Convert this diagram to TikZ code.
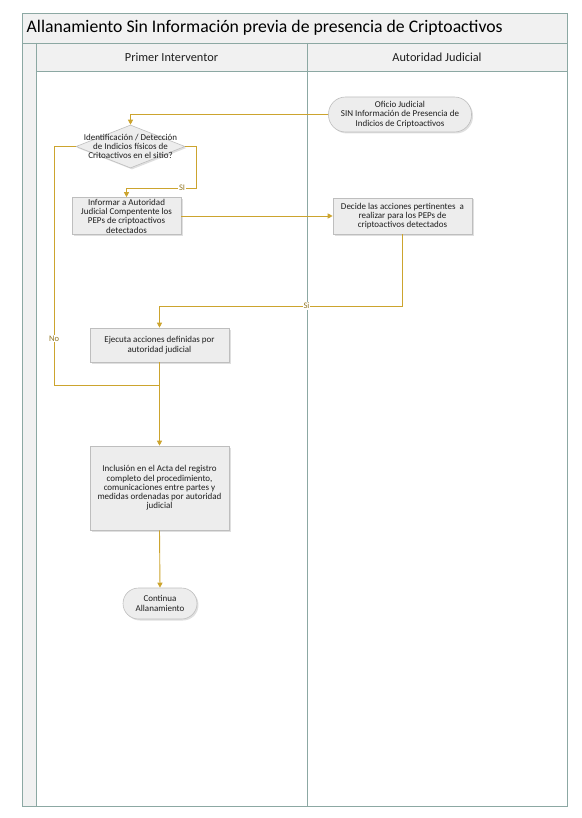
\documentclass[tikz,border=0pt]{standalone}
\usepackage{fontspec}
\setmainfont{Carlito}
\usetikzlibrary{shapes.geometric,shadows,arrows.meta}
\definecolor{framec}{RGB}{140,168,163}
\definecolor{bandc}{RGB}{241,241,241}
\definecolor{goldc}{RGB}{204,164,46}
\definecolor{boxfill}{RGB}{237,237,237}
\definecolor{boxline}{RGB}{190,190,190}
\definecolor{txtc}{RGB}{30,30,30}
\begin{document}
\begin{tikzpicture}[x=1pt,y=-1pt,
  lane/.style={draw=framec,line width=0.8pt},
  proc/.style={draw=boxline,fill=boxfill,line width=0.6pt,
    drop shadow={shadow xshift=1.5pt,shadow yshift=-1.5pt,opacity=0.25},
    inner sep=0pt,align=center,text=txtc,font=\fontsize{9}{9.3}\selectfont},
  term/.style={proc},
  dia/.style={diamond,draw=boxline,fill=boxfill,line width=0.6pt,inner sep=0pt,
    drop shadow={shadow xshift=1.5pt,shadow yshift=-1.5pt,opacity=0.25}},
  txt/.style={align=center,text=txtc,font=\fontsize{9}{9.3}\selectfont,inner sep=0pt},
  flow/.style={draw=goldc,line width=0.9pt,-{Triangle[width=5pt,length=5pt]}},
  line/.style={draw=goldc,line width=0.9pt},
  lbl/.style={fill=white,inner sep=0.8pt,text=goldc!70!black,font=\fontsize{8.5}{9}\selectfont}
]
\useasboundingbox (0,0) rectangle (581,818);
% pool
\fill[bandc] (22,13) rectangle (567,43);
\fill[bandc] (36,43) rectangle (567,71);
\fill[bandc] (22,43) rectangle (36,806);
\draw[lane] (22,13) rectangle (567,806);
\draw[lane] (22,43) -- (567,43);
\draw[lane] (36,71) -- (567,71);
\draw[lane] (36,43) -- (36,806);
\draw[lane] (307,43) -- (307,806);
\node[anchor=west,inner sep=0pt,font=\fontsize{17.7}{19}\selectfont,text=black] (title) at (26.5,28) {Allanamiento Sin Información previa de presencia de Criptoactivos};
\node[font=\fontsize{12.3}{14}\selectfont,text=txtc] (h1) at (171.5,57) {Primer Interventor};
\node[font=\fontsize{12.3}{14}\selectfont,text=txtc] (h2) at (437,57) {Autoridad Judicial};
% nodes
\node[term,rounded corners=17pt,minimum width=143pt,minimum height=35pt] (of) at (400,114.5)
  {Oficio Judicial\\SIN Información de Presencia de\\Indicios de Criptoactivos};
\node[dia,minimum width=109pt,minimum height=43pt] (d) at (130.5,146.5) {};
\node[txt] (dt) at (d.center) {Identificación / Detección\\de Indicios físicos de\\Critoactivos en el sitio?};
\node[proc,minimum width=109pt,minimum height=37pt] (inf) at (126.5,216)
  {Informar a Autoridad\\Judicial Compentente los\\PEPs de criptoactivos\\detectados};
\node[proc,minimum width=139pt,minimum height=36pt] (dec) at (402.5,216)
  {Decide las acciones pertinentes\ \ a\\realizar para los PEPs de\\criptoactivos detectados};
\node[proc,minimum width=139pt,minimum height=34pt] (ej) at (159.5,345)
  {Ejecuta acciones definidas por\\autoridad judicial};
\node[proc,minimum width=139pt,minimum height=84pt] (inc) at (159.5,488)
  {Inclusión en el Acta del registro\\completo del procedimiento,\\comunicaciones entre partes y\\medidas ordenadas por autoridad\\judicial};
\node[term,rounded corners=15.5pt,minimum width=74pt,minimum height=31pt] (co) at (160,603.5)
  {Continua\\Allanamiento};
% bend points
\coordinate (c1) at (130.5,114.5);
\coordinate (s1) at (196,146.5);
\coordinate (s2) at (196,188);
\coordinate (s3) at (126.5,188);
\coordinate (n1) at (54,146.5);
\coordinate (n2) at (54,385);
\coordinate (n3) at (159.5,385);
\coordinate (r1) at (402.5,306);
\coordinate (r2) at (159.5,306);
% connectors
\draw[flow] (of.west) -- (c1) -- (d.north);
\draw[flow] (d.east) -- (s1) -- (s2) -- node[lbl,pos=0.2] (lsi) {SI} (s3) -- (inf.north);
\draw[line] (d.west) -- (n1) -- node[lbl,pos=0.805] (lno) {No} (n2) -- (n3);
\draw[flow] (inf.east) -- (dec.west);
\draw[flow] (dec.south) -- (r1) -- node[lbl,pos=0.395] (lsi2) {Si} (r2) -- (ej.north);
\draw[flow] (ej.south) -- (inc.north);
\draw[flow] (inc.south) -- (co.north);
\end{tikzpicture}
\end{document}
